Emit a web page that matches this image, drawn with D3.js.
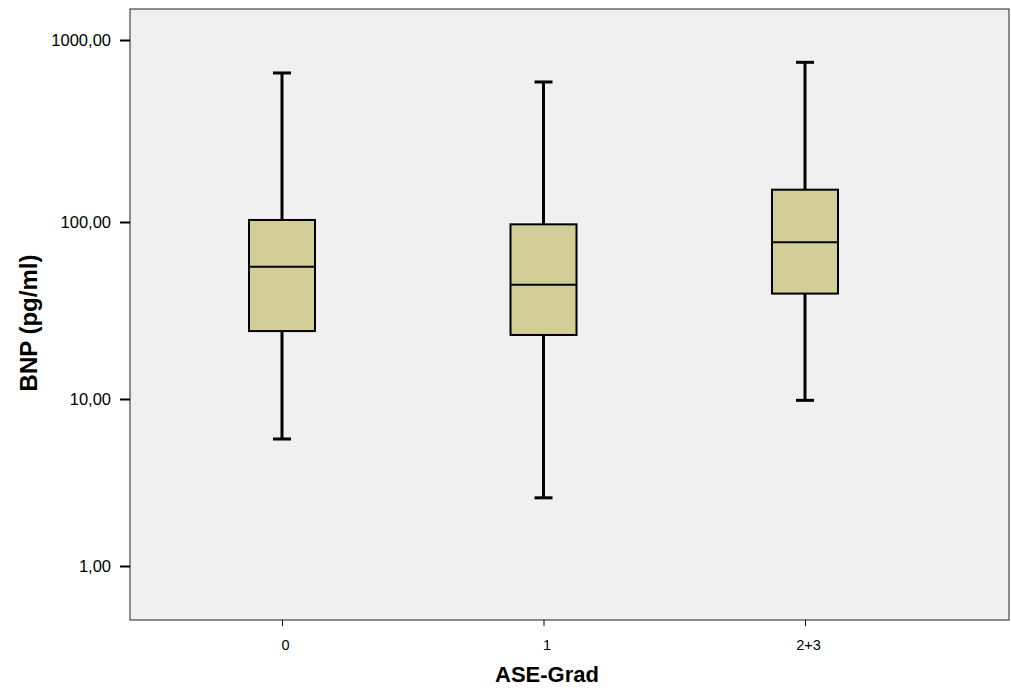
<!DOCTYPE html>
<html>
<head>
<meta charset="utf-8">
<script src="https://cdn.jsdelivr.net/npm/d3@7"></script>
<style>
  body { margin: 0; background: #fff; }
  text { font-family: "Liberation Sans", Arial, sans-serif; }
</style>
</head>
<body>
<div id="mainDiv"></div>
<script>
// data
var categories = ["0", "1", "2+3"];
var whiskerLow = [5.76, 2.56, 9.82];
var q1 = [24.2, 23.0, 39.4];
var median = [55.9, 44.2, 76.8];
var q3 = [102.6, 97.0, 150.5];
var whiskerHigh = [659, 588, 754];
var yTicks = [1, 10, 100, 1000];

var width = 1011, height = 688;
var plotLeft = 130, plotRight = 1009, plotTop = 9, plotBottom = 620;

var mySvg = d3.select("#mainDiv").append("svg")
              .attr("width", width)
              .attr("height", height);

// SPSS log axis, decades are not quite even in the picture
var y = d3.scaleLog()
          .domain([1, 10, 100, 1000])
          .range([566, 399, 222, 40]);

var x = d3.scalePoint()
          .domain(categories)
          .range([282, 805]);

mySvg.append("rect")
     .attr("x", plotLeft)
     .attr("y", plotTop)
     .attr("width", plotRight - plotLeft)
     .attr("height", plotBottom - plotTop)
     .attr("fill", "#f0f0f0")
     .attr("stroke", "#222")
     .attr("stroke-width", 1);

var yAxis = d3.axisLeft(y)
              .tickValues(yTicks)
              .tickSize(10)
              .tickPadding(9)
              .tickFormat(function(d) { return d3.format(".2f")(d).replace(".", ","); });

var gy = mySvg.append("g")
              .attr("transform", "translate(" + plotLeft + ",0)")
              .call(yAxis);
gy.select(".domain").remove();
gy.selectAll("line").attr("stroke", "#000").attr("stroke-width", 2);
gy.selectAll("text").attr("font-size", 16.5).attr("fill", "#000");

var xAxis = d3.axisBottom(x)
              .tickSize(6)
              .tickPadding(14);

var gx = mySvg.append("g")
              .attr("transform", "translate(0," + plotBottom + ")")
              .call(xAxis);
gx.select(".domain").remove();
gx.selectAll("line").attr("stroke", "#000").attr("stroke-width", 1);
gx.selectAll("text").attr("font-size", 14.5).attr("fill", "#000").attr("dx", 3);

var boxW = 66, capW = 18;

var groups = mySvg.selectAll(".box")
                  .data(categories)
                  .enter().append("g")
                  .attr("class", "box");

// whiskers
groups.append("line")
      .attr("x1", function(d) { return x(d); })
      .attr("x2", function(d) { return x(d); })
      .attr("y1", function(d, i) { return y(whiskerHigh[i]); })
      .attr("y2", function(d, i) { return y(whiskerLow[i]); })
      .attr("stroke", "#000")
      .attr("stroke-width", 3);

[whiskerHigh, whiskerLow].forEach(function(arr) {
    groups.append("line")
          .attr("x1", function(d) { return x(d) - capW / 2; })
          .attr("x2", function(d) { return x(d) + capW / 2; })
          .attr("y1", function(d, i) { return y(arr[i]); })
          .attr("y2", function(d, i) { return y(arr[i]); })
          .attr("stroke", "#000")
          .attr("stroke-width", 3);
});

groups.append("rect")
      .attr("x", function(d) { return x(d) - boxW / 2; })
      .attr("y", function(d, i) { return y(q3[i]); })
      .attr("width", boxW)
      .attr("height", function(d, i) { return y(q1[i]) - y(q3[i]); })
      .attr("fill", "#d3ce97")
      .attr("stroke", "#000")
      .attr("stroke-width", 2);

groups.append("line")
      .attr("x1", function(d) { return x(d) - boxW / 2; })
      .attr("x2", function(d) { return x(d) + boxW / 2; })
      .attr("y1", function(d, i) { return y(median[i]); })
      .attr("y2", function(d, i) { return y(median[i]); })
      .attr("stroke", "#000")
      .attr("stroke-width", 2);

mySvg.append("text")
     .text("ASE-Grad")
     .attr("x", 547)
     .attr("y", 682)
     .attr("text-anchor", "middle")
     .attr("font-size", 22)
     .attr("font-weight", "bold");

mySvg.append("text")
     .text("BNP (pg/ml)")
     .attr("transform", "translate(37,323) rotate(-90)")
     .attr("text-anchor", "middle")
     .attr("font-size", 24)
     .attr("font-weight", "bold");
</script>
</body>
</html>
